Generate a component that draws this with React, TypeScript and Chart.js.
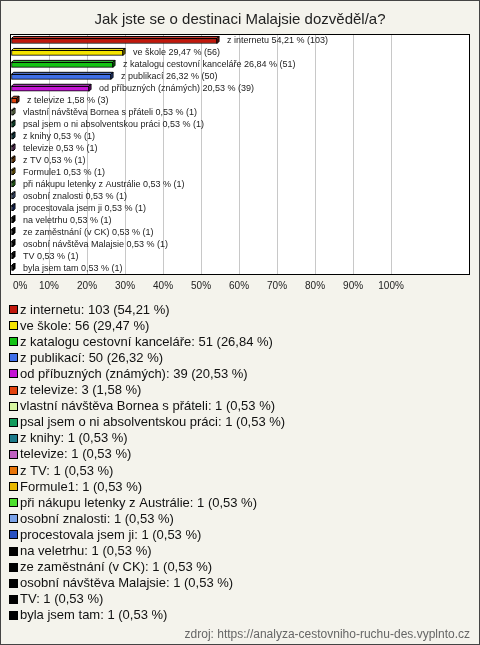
import React, { useEffect, useRef } from "react";
import { Chart, registerables } from "chart.js";

Chart.register(...registerables);

const TITLE = "Jak jste se o destinaci Malajsie dozvěděl/a?";
const SOURCE = "zdroj: https://analyza-cestovniho-ruchu-des.vyplnto.cz";

const categories = [
  "z internetu",
  "ve škole",
  "z katalogu cestovní kanceláře",
  "z publikací",
  "od příbuzných (známých)",
  "z televize",
  "vlastní návštěva Bornea s přáteli",
  "psal jsem o ni absolventskou práci",
  "z knihy",
  "televize",
  "z TV",
  "Formule1",
  "při nákupu letenky z Austrálie",
  "osobní znalosti",
  "procestovala jsem ji",
  "na veletrhu",
  "ze zaměstnání (v CK)",
  "osobní návštěva Malajsie",
  "TV",
  "byla jsem tam",
];

const counts = [103, 56, 51, 50, 39, 3, 1, 1, 1, 1, 1, 1, 1, 1, 1, 1, 1, 1, 1, 1];

const percents = [
  54.21, 29.47, 26.84, 26.32, 20.53, 1.58, 0.53, 0.53, 0.53, 0.53, 0.53, 0.53,
  0.53, 0.53, 0.53, 0.53, 0.53, 0.53, 0.53, 0.53,
];

const colors = [
  "#c1180c",
  "#f5e400",
  "#14c214",
  "#3f6fe8",
  "#c414d4",
  "#e3430d",
  "#d8f7a0",
  "#139c5c",
  "#1c7a8a",
  "#c060c0",
  "#e8750a",
  "#e8b800",
  "#4de02e",
  "#7aa2e8",
  "#2850c0",
  "#000000",
  "#000000",
  "#000000",
  "#000000",
  "#000000",
];

const xTickValues = [0, 10, 20, 30, 40, 50, 60, 70, 80, 90, 100];

const BG = "#f4f3ec";
const FONT = '"Liberation Sans", Arial, sans-serif';

const fmt = (v: number) => v.toFixed(2).replace(".", ",");

function shade(hex: string, f: number) {
  const n = parseInt(hex.slice(1), 16);
  let r = (n >> 16) & 255,
    g = (n >> 8) & 255,
    b = n & 255;
  if (f >= 0) {
    r = Math.round(r + (255 - r) * f);
    g = Math.round(g + (255 - g) * f);
    b = Math.round(b + (255 - b) * f);
  } else {
    r = Math.round(r * (1 + f));
    g = Math.round(g * (1 + f));
    b = Math.round(b * (1 + f));
  }
  return `rgb(${r},${g},${b})`;
}

const decor = {
  id: "decor",
  beforeDraw(chart: any) {
    const { ctx, chartArea: a, width, height } = chart;
    ctx.save();
    ctx.fillStyle = BG;
    ctx.fillRect(0, 0, width, height);
    ctx.fillStyle = "#ffffff";
    ctx.fillRect(a.left, a.top, a.right - a.left, a.bottom - a.top);
    ctx.restore();
  },
  afterDatasetsDraw(chart: any) {
    const { ctx } = chart;
    const meta = chart.getDatasetMeta(0);
    const d = 2;
    ctx.save();
    meta.data.forEach((el: any, i: number) => {
      const left = Math.min(el.base, el.x);
      const right = Math.max(el.base, el.x);
      const top = el.y - el.height / 2;
      const bot = el.y + el.height / 2;
      const c = colors[i];
      ctx.lineWidth = 1;
      ctx.strokeStyle = "#000";
      // top face
      ctx.beginPath();
      ctx.moveTo(left, top);
      ctx.lineTo(left + d, top - d);
      ctx.lineTo(right + d, top - d);
      ctx.lineTo(right, top);
      ctx.closePath();
      ctx.fillStyle = c === "#000000" ? "#333" : shade(c, 0.15);
      ctx.fill();
      ctx.stroke();
      // right face
      ctx.beginPath();
      ctx.moveTo(right, top);
      ctx.lineTo(right + d, top - d);
      ctx.lineTo(right + d, bot - d);
      ctx.lineTo(right, bot);
      ctx.closePath();
      ctx.fillStyle = shade(c, -0.35);
      ctx.fill();
      ctx.stroke();
      // label
      ctx.font = `9px ${FONT}`;
      ctx.fillStyle = "#222";
      ctx.textBaseline = "middle";
      ctx.textAlign = "left";
      ctx.fillText(
        `${categories[i]} ${fmt(percents[i])} % (${counts[i]})`,
        right + d + 8,
        el.y
      );
    });
    ctx.restore();
  },
  afterDraw(chart: any) {
    const { ctx, chartArea: a, width, height } = chart;
    const xs = chart.scales.x;
    ctx.save();
    // plot border
    ctx.strokeStyle = "#000";
    ctx.lineWidth = 1;
    ctx.strokeRect(a.left - 0.5, a.top - 0.5, a.right - a.left + 1, a.bottom - a.top + 1);
    // outer border
    ctx.strokeStyle = "#444";
    ctx.strokeRect(0.5, 0.5, width - 1, height - 1);
    // title
    ctx.fillStyle = "#222";
    ctx.font = `15px ${FONT}`;
    ctx.textAlign = "center";
    ctx.textBaseline = "alphabetic";
    ctx.fillText(TITLE, width / 2, 24);
    // x tick labels
    ctx.font = `10px ${FONT}`;
    ctx.textBaseline = "middle";
    xTickValues.forEach((v) => {
      const label = `${v}%`;
      const w = ctx.measureText(label).width;
      let x = xs.getPixelForValue(v) - w / 2;
      if (x < a.left + 2) x = a.left + 2;
      ctx.textAlign = "left";
      ctx.fillText(label, x, a.bottom + 12);
    });
    // legend
    ctx.font = `13px ${FONT}`;
    ctx.textAlign = "left";
    ctx.textBaseline = "middle";
    categories.forEach((c, i) => {
      const y = 309.5 + i * 16.1;
      const sy = Math.round(y - 4.5);
      ctx.fillStyle = colors[i];
      ctx.fillRect(9, sy, 9, 9);
      ctx.strokeStyle = "#000";
      ctx.strokeRect(9.5, sy + 0.5, 8, 8);
      ctx.fillStyle = "#111";
      ctx.fillText(`${c}: ${counts[i]} (${fmt(percents[i])} %)`, 20, y + 0.5);
    });
    // source
    ctx.font = `12px ${FONT}`;
    ctx.fillStyle = "#666";
    ctx.textAlign = "right";
    ctx.textBaseline = "alphabetic";
    ctx.fillText(SOURCE, width - 10, height - 7);
    ctx.restore();
  },
};

export default function App() {
  const ref = useRef<HTMLCanvasElement | null>(null);
  useEffect(() => {
    document.body.style.margin = "0";
    const canvas = ref.current;
    if (!canvas) return;
    const chart = new Chart(canvas, {
      type: "bar",
      data: {
        labels: categories,
        datasets: [
          {
            data: percents,
            backgroundColor: colors,
            borderColor: "#000",
            borderWidth: 1,
            borderSkipped: false,
            barThickness: 5,
          },
        ],
      },
      options: {
        indexAxis: "y",
        responsive: false,
        animation: false,
        devicePixelRatio: 1,
        layout: { padding: { left: 11, top: 35, right: 11, bottom: 371 } },
        plugins: {
          legend: { display: false },
          title: { display: false },
          tooltip: { enabled: false },
        },
        scales: {
          x: {
            min: 0,
            max: 120.5,
            ticks: { display: false, stepSize: 10 },
            grid: {
              drawTicks: false,
              color: (ctx: any) => {
                const v = ctx.tick ? ctx.tick.value : 0;
                return v > 0 && v <= 100 ? "#c8c8c8" : "rgba(0,0,0,0)";
              },
            },
            border: { display: false },
          },
          y: {
            display: false,
          },
        },
      },
      plugins: [decor],
    });
    return () => chart.destroy();
  }, []);
  return <canvas ref={ref} width={480} height={645} style={{ display: "block" }} />;
}
